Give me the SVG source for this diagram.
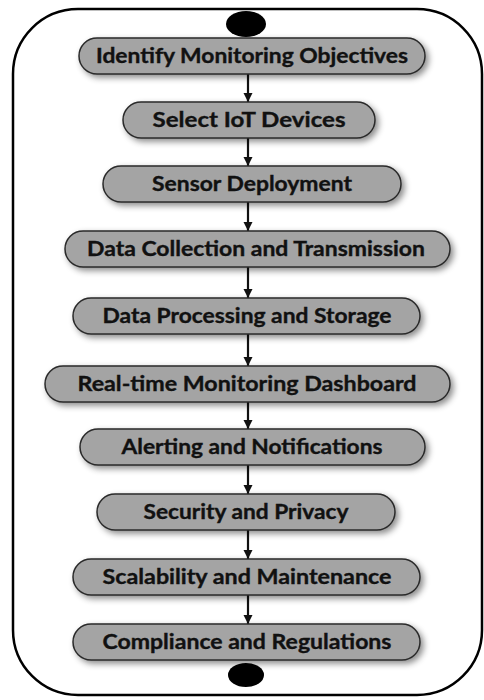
<svg xmlns="http://www.w3.org/2000/svg" width="484" height="700" viewBox="0 0 484 700">
<defs>
<filter id="sh" x="-10%" y="-40%" width="125%" height="190%">
<feDropShadow dx="3" dy="3" stdDeviation="3" flood-color="#000" flood-opacity="0.45"/>
</filter>
<marker id="ah" viewBox="0 0 10 10" refX="10" refY="5" markerWidth="4.2" markerHeight="4.2" orient="auto" markerUnits="strokeWidth">
<path d="M0,0 L10,5 L0,10 z" fill="#111"/>
</marker>
<style>
.box{fill:#a4a4a4;stroke:#2a2a2a;stroke-width:1.5;filter:url(#sh)}
.lbl{font-family:Lato,"Open Sans","Liberation Sans",sans-serif;font-weight:bold;font-size:20px;fill:#111;stroke:#111;stroke-width:0.35;text-anchor:middle}
.conn line{stroke:#111;stroke-width:2.2;marker-end:url(#ah)}
.term{fill:#000}
</style>
</defs>
<rect x="13" y="9" width="469" height="686" rx="65" ry="65" fill="#fff" stroke="#000" stroke-width="2.5"/>
<g class="conn" id="connectors">
<line x1="248" y1="74" x2="248" y2="102"/>
<line x1="248" y1="138" x2="248" y2="166"/>
<line x1="248" y1="202" x2="248" y2="231"/>
<line x1="248" y1="267" x2="248" y2="298"/>
<line x1="248" y1="334" x2="248" y2="366"/>
<line x1="248" y1="402" x2="248" y2="429"/>
<line x1="248" y1="465" x2="248" y2="494"/>
<line x1="248" y1="530" x2="248" y2="559"/>
<line x1="248" y1="595" x2="248" y2="624"/>
</g>
<g id="start"><ellipse class="term" cx="246" cy="24" rx="20" ry="13"/></g>
<g id="n1"><rect class="box" x="79" y="38" width="346" height="36" rx="18"/><text class="lbl" x="252" y="63" textLength="312" lengthAdjust="spacingAndGlyphs">Identify Monitoring Objectives</text></g>
<g id="n2"><rect class="box" x="123" y="102" width="252" height="36" rx="18"/><text class="lbl" x="249" y="127" textLength="193" lengthAdjust="spacingAndGlyphs">Select IoT Devices</text></g>
<g id="n3"><rect class="box" x="103" y="166" width="298" height="36" rx="18"/><text class="lbl" x="252" y="191" textLength="200" lengthAdjust="spacingAndGlyphs">Sensor Deployment</text></g>
<g id="n4"><rect class="box" x="65" y="231" width="385" height="36" rx="18"/><text class="lbl" x="256" y="256" textLength="338" lengthAdjust="spacingAndGlyphs">Data Collection and Transmission</text></g>
<g id="n5"><rect class="box" x="73" y="298" width="347" height="36" rx="18"/><text class="lbl" x="247" y="323" textLength="289" lengthAdjust="spacingAndGlyphs">Data Processing and Storage</text></g>
<g id="n6"><rect class="box" x="45" y="366" width="405" height="36" rx="18"/><text class="lbl" x="247" y="391" textLength="339" lengthAdjust="spacingAndGlyphs">Real-time Monitoring Dashboard</text></g>
<g id="n7"><rect class="box" x="80" y="429" width="345" height="36" rx="18"/><text class="lbl" x="252" y="454" textLength="261" lengthAdjust="spacingAndGlyphs">Alerting and Notifications</text></g>
<g id="n8"><rect class="box" x="97" y="494" width="298" height="36" rx="18"/><text class="lbl" x="246" y="519" textLength="205" lengthAdjust="spacingAndGlyphs">Security and Privacy</text></g>
<g id="n9"><rect class="box" x="73" y="559" width="347" height="36" rx="18"/><text class="lbl" x="247" y="584" textLength="289" lengthAdjust="spacingAndGlyphs">Scalability and Maintenance</text></g>
<g id="n10"><rect class="box" x="73" y="624" width="347" height="36" rx="18"/><text class="lbl" x="247" y="649" textLength="289" lengthAdjust="spacingAndGlyphs">Compliance and Regulations</text></g>
<g id="end"><ellipse class="term" cx="246" cy="675" rx="18" ry="12"/></g>
</svg>
